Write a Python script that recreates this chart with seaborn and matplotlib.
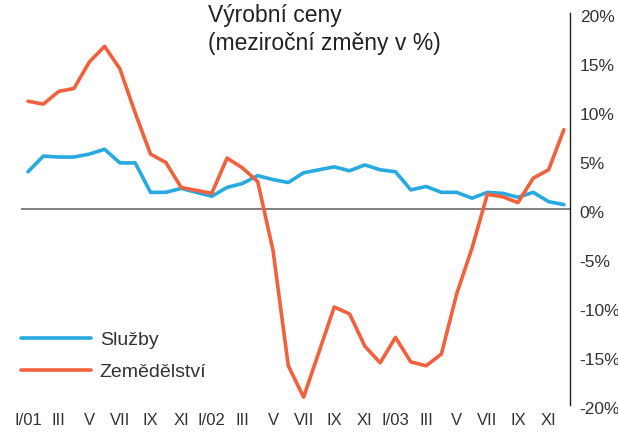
import numpy as np
import pandas as pd
import matplotlib
matplotlib.use('Agg')
import matplotlib.pyplot as plt
import matplotlib.transforms as mtrans
import seaborn as sns

# mesicni data I/2001 - XII/2003
months = ['I/01', 'II', 'III', 'IV', 'V', 'VI', 'VII', 'VIII', 'IX', 'X', 'XI', 'XII',
          'I/02', 'II', 'III', 'IV', 'V', 'VI', 'VII', 'VIII', 'IX', 'X', 'XI', 'XII',
          'I/03', 'II', 'III', 'IV', 'V', 'VI', 'VII', 'VIII', 'IX', 'X', 'XI', 'XII']
sluzby = [3.8, 5.4, 5.3, 5.3, 5.6, 6.1, 4.7, 4.7, 1.7, 1.7, 2.1, 1.7,
          1.3, 2.2, 2.6, 3.4, 3.0, 2.7, 3.7, 4.0, 4.3, 3.9, 4.5, 4.0,
          3.8, 1.95, 2.3, 1.7, 1.7, 1.1, 1.7, 1.6, 1.2, 1.7, 0.75, 0.45]
zemedelstvi = [11.0, 10.7, 12.0, 12.3, 15.0, 16.6, 14.3, 9.8, 5.6, 4.75, 2.2, 1.9,
               1.6, 5.2, 4.2, 2.8, -4.2, -16.0, -19.2, -14.6, -10.0, -10.7, -14.0, -15.7,
               -13.1, -15.6, -16.0, -14.8, -8.65, -4.0, 1.5, 1.25, 0.65, 3.15, 4.0, 8.1]
series_names = ['Služby', 'Zemědělství']
y_ticks = [-20, -15, -10, -5, 0, 5, 10, 15, 20]


def build_frame():
    df = pd.DataFrame({'idx': np.arange(len(months)),
                       series_names[0]: sluzby,
                       series_names[1]: zemedelstvi})
    return df.melt(id_vars='idx', var_name='rada', value_name='hodnota')


def plot_chart(df):
    sns.set_theme(style='white')
    plt.rcParams['font.family'] = ['Liberation Sans', 'DejaVu Sans']
    text_color = '#333333'

    fig = plt.figure(figsize=(6.18, 4.32), dpi=100)
    ax = fig.add_axes([21 / 618, 1 - 405 / 432, (570 - 21) / 618, 392 / 432])

    ax.axhline(0, color='#808080', lw=1.4, zorder=1)
    sns.lineplot(data=df, x='idx', y='hodnota', hue='rada', ax=ax,
                 palette=['#27a9e1', '#f2603c'], linewidth=2.6, zorder=3)

    ax.set_xlim(-0.46, 35.4)
    ax.set_ylim(-20, 20)

    ax.yaxis.tick_right()
    ax.set_yticks(y_ticks)
    ax.set_yticklabels(['{}%'.format(v) for v in y_ticks])
    ax.set_xticks(np.arange(0, len(months), 2))
    ax.set_xticklabels(months[::2])
    ax.tick_params(axis='y', length=0, pad=7, labelsize=12.5, colors=text_color)
    ax.tick_params(axis='x', length=0, pad=6, labelsize=12, colors=text_color)
    ax.set_xlabel('')
    ax.set_ylabel('')

    # popisky osy y o kousek niz, jako v originalu
    shift = mtrans.ScaledTranslation(0, -3 / 100, fig.dpi_scale_trans)
    for lbl in ax.get_yticklabels():
        lbl.set_transform(lbl.get_transform() + shift)

    for side in ['left', 'top', 'bottom']:
        ax.spines[side].set_visible(False)
    ax.spines['right'].set_color('#222222')
    ax.spines['right'].set_linewidth(1.0)

    handles, labels = ax.get_legend_handles_labels()
    ax.legend(handles, labels, loc='center left', frameon=False,
              bbox_to_anchor=(21 / 618, 1 - 356 / 432), bbox_transform=fig.transFigure,
              borderpad=0, borderaxespad=0, handlelength=3.6, handletextpad=0.45,
              labelspacing=0.75, fontsize=14, labelcolor=text_color)

    fig.text(208 / 618, 1 - 4 / 432, 'Výrobní ceny\n(meziroční změny v %)',
             ha='left', va='top', fontsize=16.5, color='#222222', linespacing=1.3)

    fig.savefig('out.png', dpi=100)


def main():
    df = build_frame()
    plot_chart(df)


if __name__ == '__main__':
    main()
